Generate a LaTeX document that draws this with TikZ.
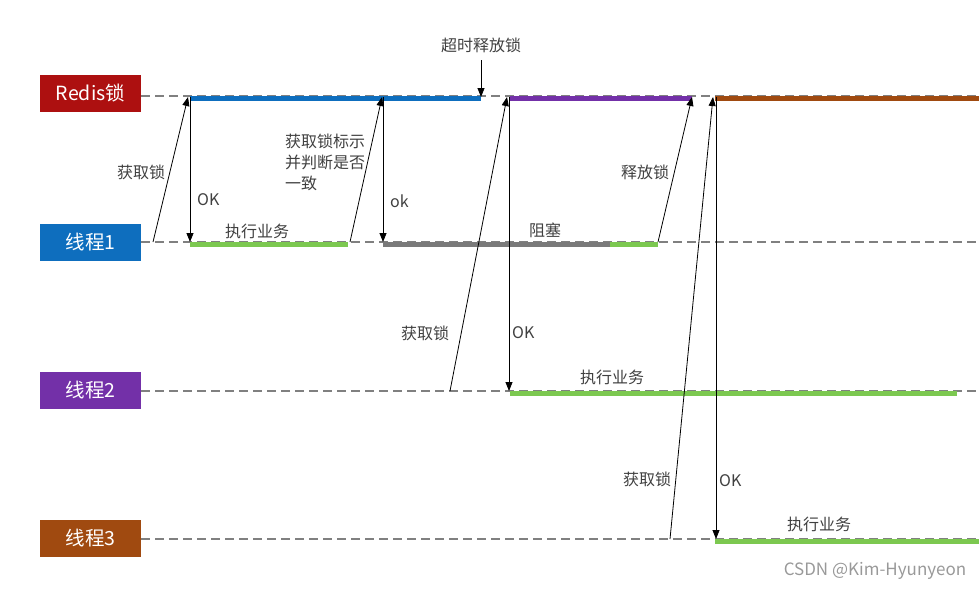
\documentclass[tikz,border=0pt]{standalone}
\usepackage{fontspec}
\setmainfont{Noto Sans CJK SC}
\usepackage{tikz}
\usetikzlibrary{positioning, arrows.meta}

\definecolor{redisred}{HTML}{AD1010}
\definecolor{threadblue}{HTML}{0E6EBE}
\definecolor{threadpurple}{HTML}{7330A8}
\definecolor{threadbrown}{HTML}{A04A10}
\definecolor{busygreen}{HTML}{7CC850}
\definecolor{waitgray}{HTML}{7A7A7A}

\begin{document}
\begin{tikzpicture}
	[x=1pt, y=-1pt, >={Triangle[length=9pt,width=7pt]},
	 actor/.style={minimum width=101pt, minimum height=37pt, inner sep=0pt, text=white, font=\fontsize{19.5}{20}\selectfont},
	 lane/.style={draw=black!50, line width=1.3pt, dash pattern=on 9pt off 5pt},
	 hold/.style={line width=5pt},
	 msg/.style={->, line width=0.8pt},
	 lbl/.style={text=black!75, font=\fontsize{16}{21}\selectfont, inner sep=0pt}]
   \useasboundingbox (0,0) rectangle (979,590);

   % actors and their lanes
   \node[actor, fill=redisred] (redis) at (90.5,93.5) {Redis锁};
   \node[actor, fill=threadblue] (t1) at (90.5,242.5) {线程1};
   \node[actor, fill=threadpurple] (t2) at (90.5,390.5) {线程2};
   \node[actor, fill=threadbrown] (t3) at (90.5,538.5) {线程3};
   \draw[lane] (redis.east |- 0,96) -- (979,96);
   \draw[lane] (t1.east |- 0,242) -- (979,242);
   \draw[lane] (t2.east |- 0,391) -- (979,391);
   \draw[lane] (t3.east |- 0,539) -- (979,539);

   % lock holders
   \draw[hold, threadblue] (190,98) -- (481,98);
   \draw[hold, threadpurple] (510,98) -- (692,98);
   \draw[hold, threadbrown] (715,98) -- (979,98);
   % thread work
   \draw[hold, busygreen] (190,244.5) -- (348,244.5);
   \draw[hold, waitgray] (383,244.5) -- (610,244.5);
   \draw[hold, busygreen] (610,244.5) -- (658,244.5);
   \draw[hold, busygreen] (510,393) -- (957,393);
   \draw[hold, busygreen] (715,541) -- (979,541);

   % message points
   \coordinate (a1) at (153,242);  \coordinate (r1) at (188,97);
   \coordinate (k1) at (190,97);   \coordinate (w1) at (190,242);
   \coordinate (a2) at (350,242);  \coordinate (r2) at (382,97);
   \coordinate (k2) at (383,97);   \coordinate (w2) at (383,242);
   \coordinate (tout) at (481,60); \coordinate (rt) at (481,97);
   \coordinate (a3) at (450,391);  \coordinate (r3) at (507,97);
   \coordinate (k3) at (509,97);   \coordinate (w3) at (509,391);
   \coordinate (a4) at (658,242);  \coordinate (r4) at (692,97);
   \coordinate (a5) at (670,539);  \coordinate (r5) at (713,97);
   \coordinate (k5) at (716,97);   \coordinate (w5) at (716,539);

   \path[msg]
    (a1) edge (r1)
    (k1) edge (w1)
    (a2) edge (r2)
    (k2) edge (w2)
    (tout) edge (rt)
    (a3) edge (r3)
    (k3) edge (w3)
    (a4) edge (r4)
    (a5) edge (r5)
    (k5) edge (w5);

   % labels
   \node[lbl] (lget1) at (141,172) {获取锁};
   \node[lbl, anchor=west] (lok1) at (197,200) {OK};
   \node[lbl, anchor=north west, align=left] (lcheck) at (285,134) {获取锁标示\\并判断是否\\一致};
   \node[lbl, anchor=west] (lok2) at (390,201) {ok};
   \node[lbl] (ltout) at (481,45) {超时释放锁};
   \node[lbl] (lwork1) at (257,231) {执行业务};
   \node[lbl] (lblock) at (545,230) {阻塞};
   \node[lbl] (lrel) at (645,172) {释放锁};
   \node[lbl] (lget2) at (425,333) {获取锁};
   \node[lbl, anchor=west] (lok3) at (512,333) {OK};
   \node[lbl] (lwork2) at (612,377) {执行业务};
   \node[lbl] (lget3) at (647,479) {获取锁};
   \node[lbl, anchor=west] (lok5) at (719,481) {OK};
   \node[lbl] (lwork3) at (819,524) {执行业务};
   \node[lbl, text=black!40, font=\fontsize{17}{21}\selectfont] (mark) at (875,571) {CSDN @Kim-Hyunyeon};
\end{tikzpicture}
\end{document}
